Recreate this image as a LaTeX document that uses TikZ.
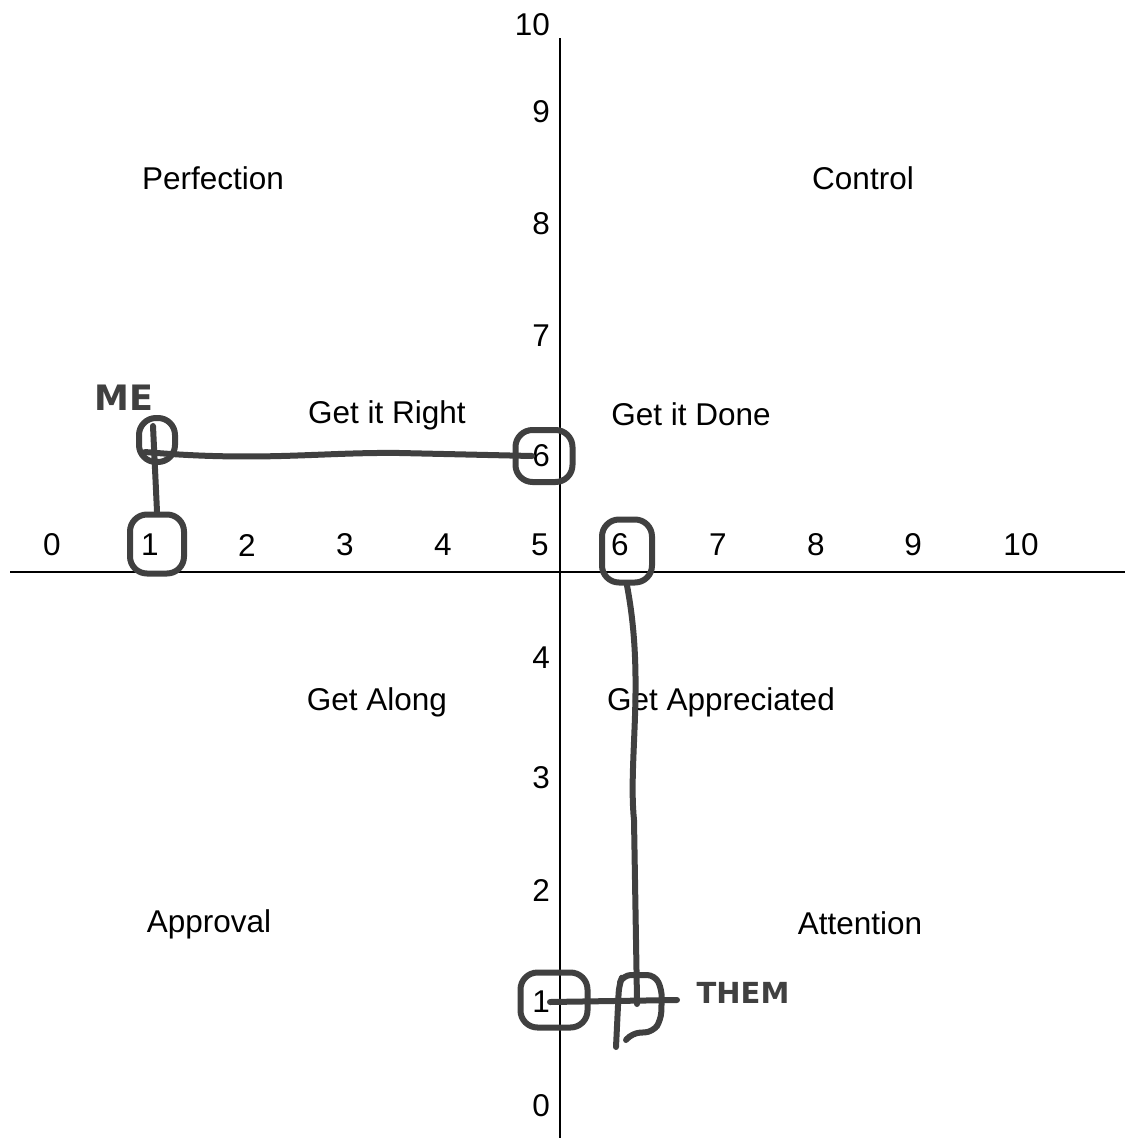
\documentclass[tikz,border=0pt]{standalone}
\usepackage{fontspec}
\setmainfont{Liberation Sans}
\newfontfamily\handfont{DejaVu Sans}
\usetikzlibrary{positioning}

\tikzset{
  lbl/.style={font=\fontsize{31.5}{36}\selectfont, inner sep=0pt},
  axis/.style={line width=1.5pt, black},
  pen/.style={line width=6pt, draw=black!75, line cap=round, line join=round},
  ring/.style={pen, rectangle, rounded corners=17pt, inner sep=0pt},
  hand/.style={text=black!75, inner sep=0pt, font=\handfont\bfseries\fontsize{#1}{#1}\selectfont}
}

\begin{document}
\begin{tikzpicture}[x=1pt, y=-1pt]
  \useasboundingbox (0,0) rectangle (1125,1138);

  % Axes
  \draw[axis] (10,572) -- (1125,572);
  \draw[axis] (560,38) -- (560,1138);

  % Axis numbers
  \foreach \v/\x in {0/52,1/150,2/247,3/345,4/443,5/540,6/620,7/718,8/816,9/913,10/1021}
    \node[lbl] (x\v) at (\x,545) {\v};
  \foreach \v/\y in {10/25,9/112,8/224,7/336,6/456,4/658,3/778,2/890,1/1002,0/1106}
    \node[lbl, anchor=east] (y\v) at (550,\y) {\v};

  % Quadrant labels
  \node[lbl] (perfection) at (213,178) {Perfection};
  \node[lbl] (control) at (863,178) {Control};
  \node[lbl] (getright) at (387,415) {Get it Right};
  \node[lbl] (getdone) at (691,414) {Get it Done};
  \node[lbl] (getalong) at (377,702) {Get Along};
  \node[lbl] (getappr) at (721,702) {Get Appreciated};
  \node[lbl] (approval) at (209,924) {Approval};
  \node[lbl] (attention) at (860,923) {Attention};

  % Me: scored 1 and 6
  \node[hand=35] (me) at (124,398) {ME};
  \node[ring, minimum width=36pt, minimum height=44pt] (meBox) at (157,440) {};
  \node[ring, minimum width=54pt, minimum height=59pt] (ringX1) at (157,544) {};
  \node[ring, minimum width=57pt, minimum height=52pt] (ringY6) at (544,456) {};
  \coordinate (meTop) at (153,426);
  \coordinate (meLeft) at (145,452);
  \draw[pen] (meTop) -- (ringX1.north);
  \draw[pen] (meLeft) .. controls (260,462) and (320,452) .. (400,453) -- (y6.west);

  % Them: scored 6 and 1
  \node[hand=29] (them) at (743,993) {THEM};
  \node[ring, minimum width=50pt, minimum height=63pt] (ringX6) at (627,551) {};
  \node[ring, minimum width=67pt, minimum height=55pt] (ringY1) at (554,1000) {};
  \coordinate (themMid) at (637,1000);
  \coordinate (themEnd) at (677,1000);
  \draw[pen] (ringX6.south) .. controls (645,680) and (628,760) .. (634,820) -- (themMid) -- (637,1004);
  \draw[pen] (y1.east) -- (themEnd);
  \draw[pen, rounded corners=8pt] (616,1047) -- (619,985) -- (623,975) -- (655,975) -- (662,990)
    -- (661,1020) -- (653,1032) -- (632,1033) -- (626,1040);
\end{tikzpicture}
\end{document}
